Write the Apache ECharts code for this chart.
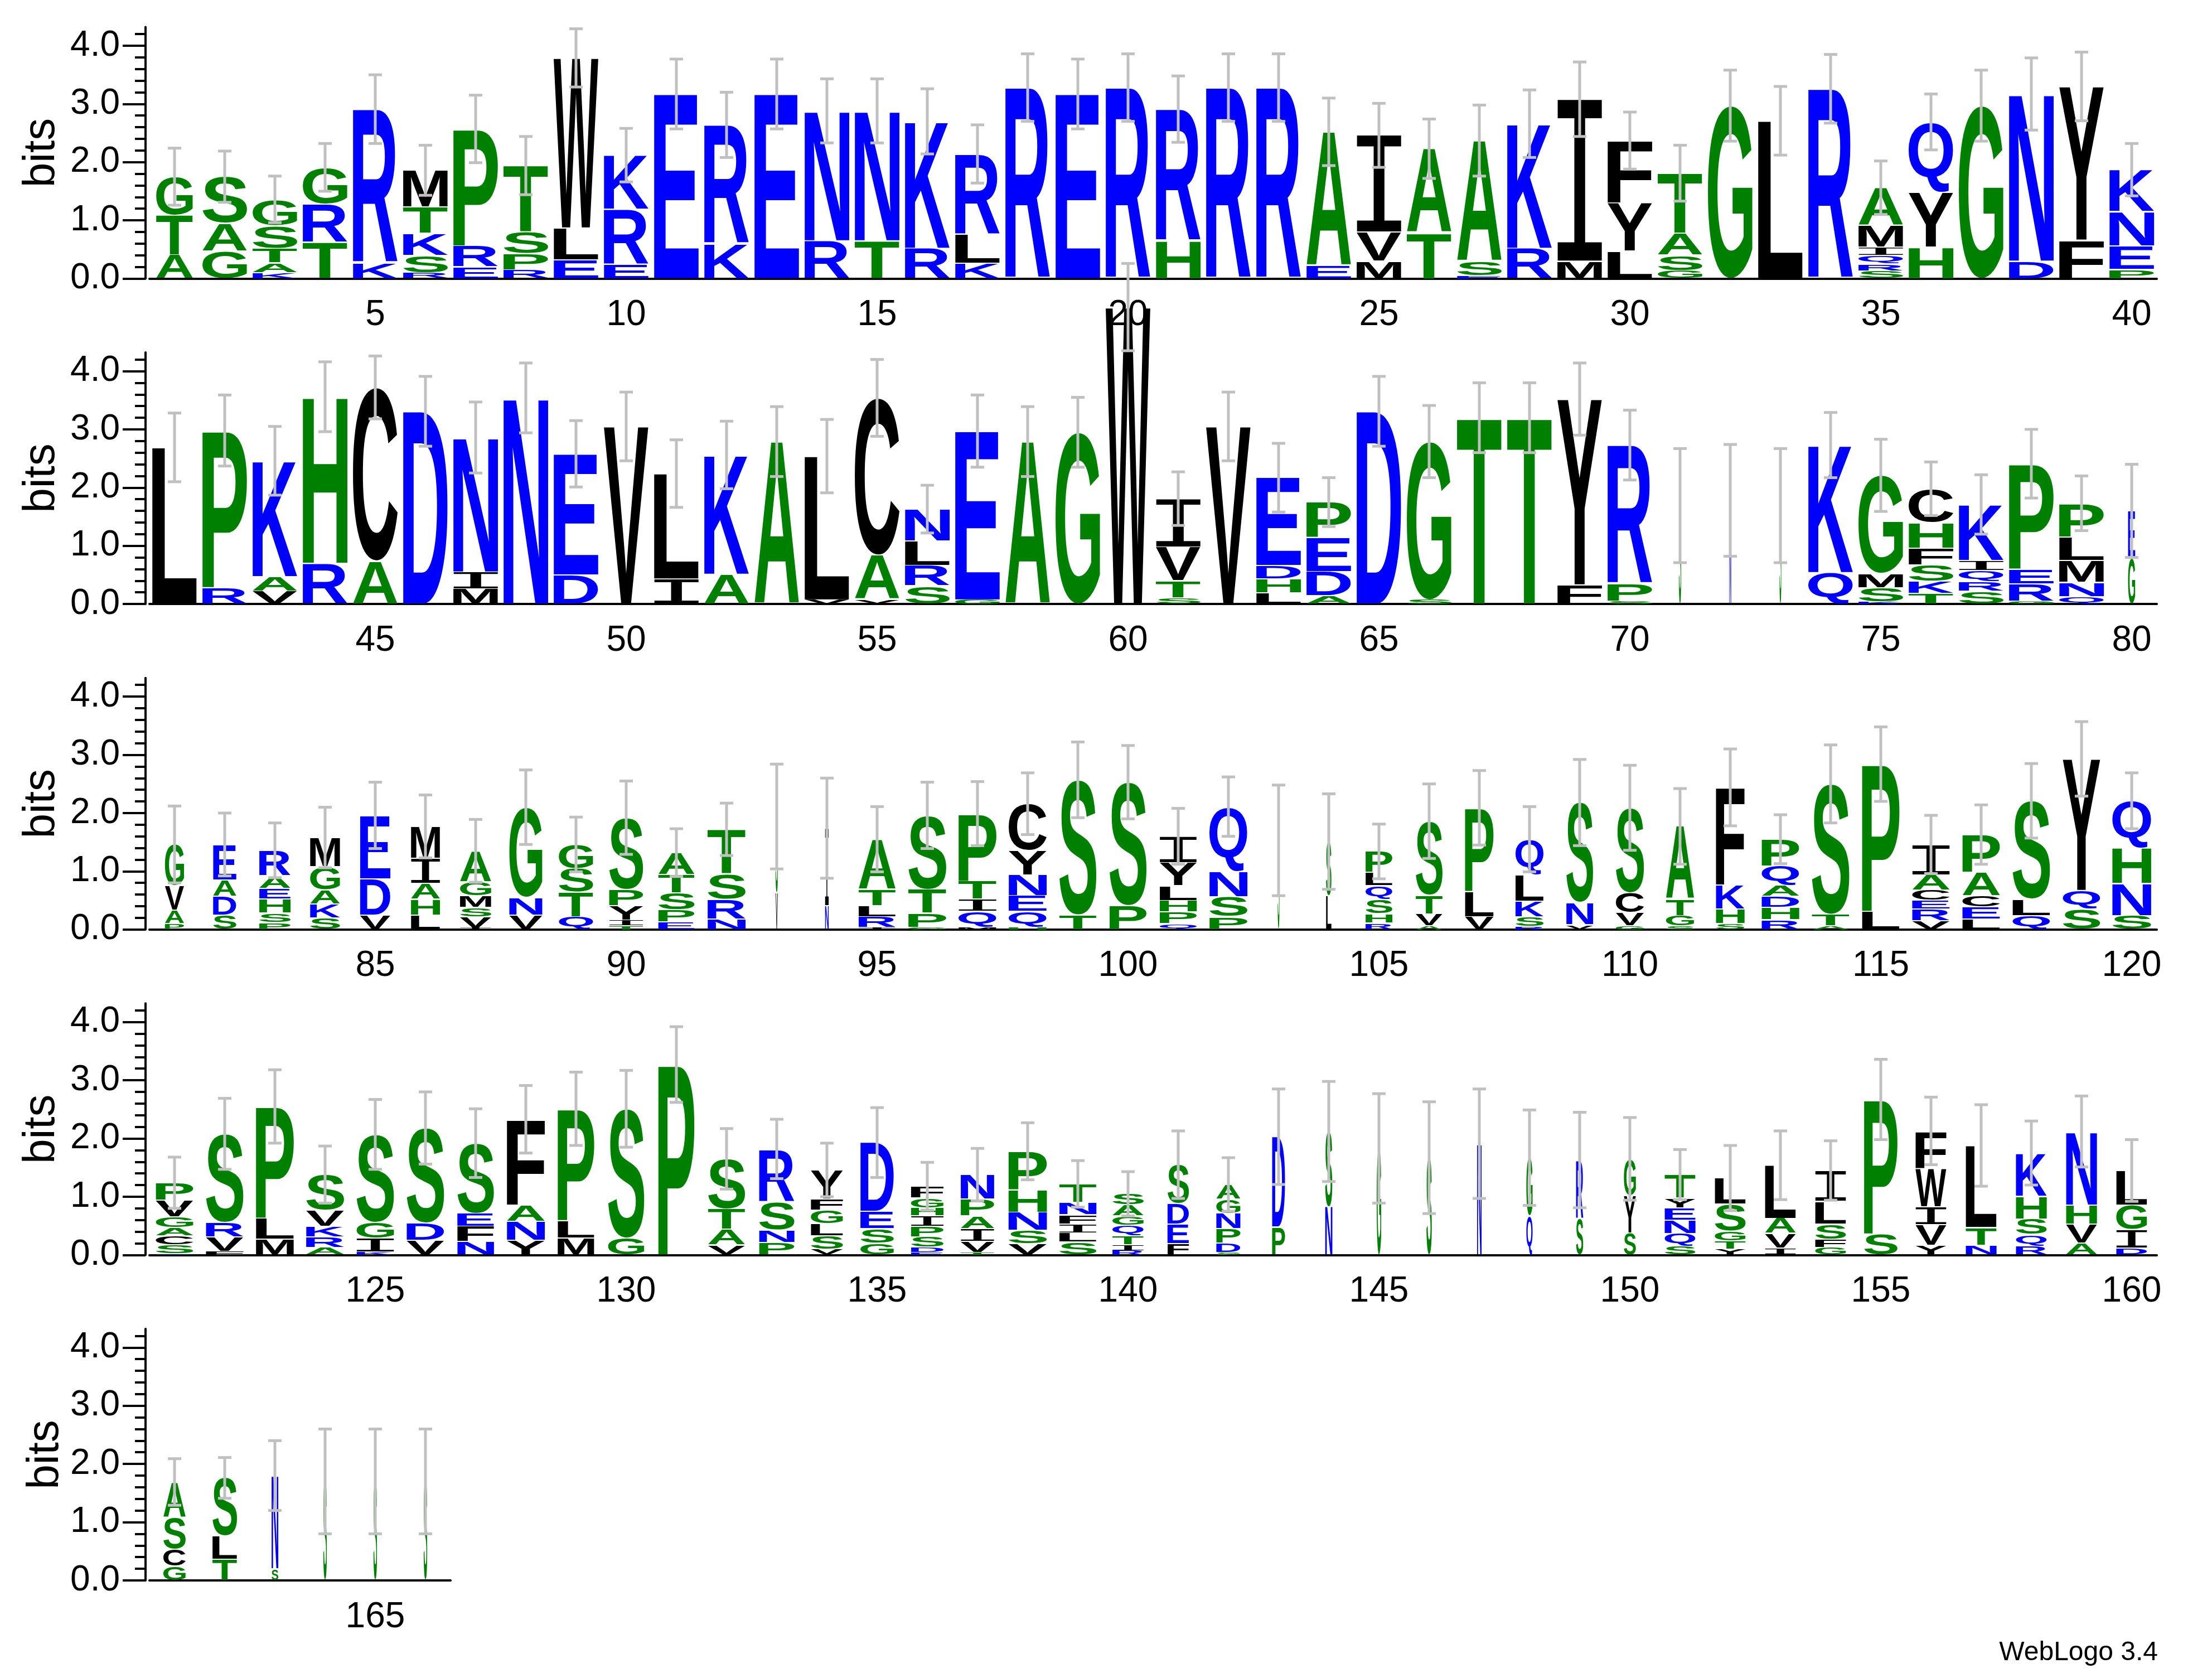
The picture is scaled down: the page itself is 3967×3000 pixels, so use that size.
<!DOCTYPE html>
<html>
<head>
<meta charset="utf-8">
<title>WebLogo</title>
<script src="https://cdn.jsdelivr.net/npm/echarts@6.0.0/dist/echarts.min.js"></script>
<style>
  html, body { margin: 0; padding: 0; background: #fff; }
  #chart { width: 3967px; height: 3000px; }
</style>
</head>
<body>
<div id="chart"></div>
<script>
// each stack is read bottom -> top, "letter + height in bits"
const rowStarts = [1, 41, 81, 121, 161];
const majorTicks = [0, 1, 2, 3, 4];

const stacks1 = [
  "A.41 T.68 G.66", "G.47 A.48 S.80", "K.1 A.17 T.25 S.39 G.45", "T.62 R.66 G.63", "K.27 R2.64",
  "R.1 S.3 K.38 T.45 M.63", "E.2 R.36 P2.01", "R.15 P.28 S.37 T1.14", "E.32 L.55 W2.92", "E.25 R.94 K.93",
  "E3.17", "K.6 R2.04", "E3.17", "R.65 N2.23", "T.65 N2.23",
  "R.52 K2.18", "K.26 L.5 R1.38", "R3.28", "E3.17", "R3.28",
  "H.65 R2.26", "R3.28", "R3.28", "E.22 A2.3", "M.3 V.5 I1.66",
  "T.79 A1.44", "E.05 S.25 A2.07", "R.52 K2.14", "M.3 I2.78", "L.47 Y.83 F1.07",
  "G.14 S.26 A.38 T1.03", "G2.97", "L2.71", "R3.26", "S.13 R.12 Q.15 I.14 M.37 A.65",
  "H.54 Y.94 Q1.21", "G2.97", "D.3 N2.87", "F.66 Y2.64", "P.16 E.4 N.59 K.72"
];
const errors1 = [.49, .44, .40, .41, .59, .43, .58, .5, .5, .46, .6, .56, .6, .55, .55, .56, .5, .58, .6, .58,
  .57, .58, .58, .58, .55, .51, .61, .58, .64, .49, .48, .61, .59, .59, .46, .48, .61, .62, .59, .45];
const widths1 = [.82, 1, 1, 1, 1, 1, 1, 1, 1, 1, 1, 1, 1, 1, 1, 1, 1, 1, 1, 1,
  1, 1, 1, 1, 1, 1, 1, 1, 1, 1, 1, 1, 1, 1, 1, 1, 1, 1, 1, 1];

const stacks2 = [
  "L2.69", "R.28 P2.7", "V.22 A.25 K1.99", "R.7 H2.86", "A.74 C2.98",
  "D3.31", "M.26 I.29 N2.31", "N3.54", "D.5 E2.08", "V3.05",
  "I.43 L1.81", "A.51 K2.05", "A2.79", "V.07 L2.47", "V.08 A.76 C2.7",
  "S.31 R.35 L.42 N.55", "G.07 E2.9", "A2.79", "G2.95", "W5.1",
  "S.11 T.29 V.58 I.83", "V3.05", "L.19 H.24 D.23 E1.51", "A.14 D.42 E.58 P.61", "D3.31",
  "S.07 G2.72", "T3.2", "T3.2", "F.33 Y3.19", "S.05 P.3 R2.38",
  "S1.69", "N1.78", "S1.69", "Q.54 K2.19", "K.04 S.24 M.24 G1.69",
  "T.18 K.21 S.28 F.29 H.44 C.58", "S.22 R.17 Q.19 I.17 K.96", "G.05 R.3 E.25 P1.81", "Q.13 N.24 M.38 L.4 P.58", "G.79 E.81"
];
const errors2 = [.59, .61, .59, .6, .54, .6, .61, .6, .57, .59, .58, .58, .6, .63, .66, .41, .62, .6, .6, .75,
  .46, .59, .59, .42, .6, .62, .6, .6, .62, .6, .98, .96, .98, .56, .62, .46, .51, .59, .47, .8];
const widths2 = [1, 1, 1, 1, 1, 1, 1, 1, 1, 1, 1, 1, 1, 1, 1, 1, 1, 1, 1, 1,
  1, 1, 1, 1, 1, 1, 1, 1, 1, 1, .05, .04, .04, 1, 1, 1, 1, 1, 1, .16];

const stacks3 = [
  "P.1 A.23 V.42 G.71", "S.25 D.32 A.28 E.61", "P.12 S.16 H.24 E.18 A.22 R.44", "S.2 K.24 A.24 G.4 M.5", "V.25 D.62 E1.09",
  "L.25 H.27 A.27 I.43 M.55", "I.03 V.19 S.16 M.2 G.24 A.53", "V.25 N.3 G1.55", "Q.22 T.42 S.41 G.41", "T.06 I.1 Y.25 P.28 S1.23",
  "E.13 P.21 S.29 T.31 A.38", "N.18 R.34 S.44 T.76", "V.63 S1.31", "N.41 I1.33", "I.03 R.19 L.19 T.28 A.86",
  "G.04 P.24 T.41 S1.27", "M.04 Q.27 I.21 T.31 P1.16", "H.04 Q.27 E.27 N.36 Y.42 C.8", "T.25 S2.32", "P.41 S2.12",
  "Q.1 P.2 H.2 L.25 Y.4 I.45", "P.22 S.34 N.44 Q1.11", "S1.53", "L.58 S.93", "R.11 H.16 S.25 Q.23 L.23 P.36",
  "A.06 V.21 T.32 S1.27", "V.22 L.44 P1.43", "R.05 S.17 K.27 L.45 Q.61", "V.08 N.38 S1.72", "G.06 V.23 C.34 S1.46",
  "S.06 G.18 T.28 A1.25", "S.1 H.25 K.41 F1.68", "R.17 H.21 D.19 A.19 Q.33 P.46", "A.06 T.2 S2.24", "L.31 P2.53",
  "V.15 R.2 E.15 C.18 A.26 I.52", "L.18 E.21 C.19 A.4 P.65", "Q.24 L.28 S1.69", "S.35 Q.32 Y2.26", "S.24 N.55 H.61 Q.81"
];
const errors3 = [.66, .54, .47, .52, .57, .54, .54, .64, .47, .63, .41, .45, .9, .86, .56, .57, .55, .53, .65, .63,
  .48, .51, .95, .82, .47, .64, .64, .56, .74, .73, .65, .66, .42, .67, .64, .5, .51, .64, .64, .48];
const widths3 = [.43, .52, .7, .67, .68, .65, .7, .74, .77, .76, .81, .85, .05, .08, .83, .85, .85, .85, .83, .83,
  .83, .85, .04, .12, .6, .6, .64, .63, .6, .63, .63, .64, .84, .84, .84, .84, .84, .84, .84, .87];

const stacks4 = [
  "Q.02 S.15 C.16 A.14 G.18 V.29 P.3", "F.06 V.25 R.25 S1.52", "M.27 L.36 P1.92", "A.13 R.18 K.18 V.28 S.61", "K.05 I.24 G.27 S1.51",
  "V.25 D.3 S1.63", "N.23 F.26 E.22 S1.21", "Y.25 N.33 A.28 F1.47", "M.29 L.3 P1.92", "G.29 S2.22",
  "P3.27", "V.17 A.27 T.35 S.86", "P.21 N.22 S.49 R.9", "V.1 S.23 L.21 G.23 F.19 Y.5", "G.2 S.25 E.3 D1.18",
  "E.04 D.09 S.18 P.18 I.18 H.14 G.17 F.2", "T.04 V.19 I.22 A.22 P.29 N.42", "V.19 S.23 N.31 H.39 P.66", "S.22 L.16 I.15 F.16 N.21 T.32", "R.07 I.11 T.15 Q.18 G.16 A.19 S.19",
  "F.19 E.34 D.35 S.67", "S.04 D.16 P.25 N.26 G.25 A.25", "P.48 D1.55", "N.83 S1.29", "G1.83",
  "S1.67", "N1.91", "Q.67 G1.0", "S.63 R1.0", "S.38 Y.64 G.63",
  "S.15 Q.22 N.23 E.21 Y.17 T.4", "Y.1 T.14 G.17 S.46 L.45", "I.12 V.25 A.26 L.91", "G.13 F.14 S.26 L.39 I.53", "S.36 P2.31",
  "Y.17 V.35 I.31 W.66 F.64", "N.17 T.3 L1.41", "R.15 Q.2 S.27 H.39 K.74", "A.2 V.33 H.33 N1.26", "D.12 I.32 G.42 L.59"
];
const errors4 = [.44, .61, .63, .49, .6, .62, .59, .58, .63, .66, .65, .52, .51, .46, .6, .41, .45, .49, .4, .38,
  .58, .46, .82, .86, .94, .96, .94, .82, .82, .71, .43, .56, .59, .51, .69, .58, .7, .55, .61, .53];
const widths4 = [.84, .84, .85, .85, .84, .84, .82, .85, .82, .81, .81, .83, .79, .72, .75, .73, .75, .86, .83, .7,
  .48, .54, .29, .16, .1, .12, .1, .14, .16, .27, .69, .69, .69, .69, .75, .69, .69, .69, .69, .69];

const stacks5 = ["G.24 C.3 S.55 A.6", "T.36 L.4 S1.0", "S.2 N1.6", "S1.7", "S1.7", "S1.7"];
const errors5 = [.4, .35, .6, .9, .9, .9];
const widths5 = [.5, .55, .15, .08, .08, .08];

const rowStacks = [stacks1, stacks2, stacks3, stacks4, stacks5];
const rowErrors = [errors1, errors2, errors3, errors4, errors5];
const rowWidths = [widths1, widths2, widths3, widths4, widths5];

// hydrophobicity colours
const colorOf = ch => "RKDENQ".includes(ch) ? "#0000ff" : ("SGHTAP".includes(ch) ? "#008000" : "#000000");

const FONT = 'bold 200px "Liberation Sans"';
const FONT_I = '200px "DejaVu Sans Mono"';   // serif I like the logo font
const fontFor = ch => ch === "I" ? FONT_I : FONT;
const FONT_AXIS = '"Liberation Sans", Arial, sans-serif';
const YMAX = 4.32;
const BIT = 104.4;       // px per bit
const BASE0 = 499.5;     // baseline of first row
const ROWSTEP = 583.6;
const COL = 90;          // px per position
const LETTER_FILL = 0.89;

// glyph bounding boxes, measured the same way zrender draws (middle baseline)
const mctx = document.createElement("canvas").getContext("2d");
mctx.textBaseline = "middle";
mctx.textAlign = "left";
const boxCache = {};
function glyphBox(ch) {
  if (!boxCache[ch]) {
    mctx.font = fontFor(ch);
    const m = mctx.measureText(ch);
    boxCache[ch] = { l: m.actualBoundingBoxLeft, r: m.actualBoundingBoxRight, a: m.actualBoundingBoxAscent, d: m.actualBoundingBoxDescent };
  }
  return boxCache[ch];
}

function letterRender(glyphs) {
  return function (params, api) {
    const g = glyphs[params.dataIndex];
    const ci = api.value(0);
    const pb = api.coord([ci, api.value(1)]);
    const pt = api.coord([ci, api.value(2)]);
    const band = api.size([1, 0])[0];
    const w = band * LETTER_FILL * api.value(3);
    let top = pt[1], h = pb[1] - pt[1];
    if (h > 8) { top += 1; h -= 2; }
    if (h <= 0.3) return { type: "group", children: [] };
    const m = glyphBox(g.ch);
    const sx = w / (m.l + m.r);
    const sy = h / (m.a + m.d);
    return {
      type: "text",
      x: pb[0] - w / 2 + m.l * sx,
      y: top + m.a * sy,
      scaleX: sx,
      scaleY: sy,
      silent: true,
      style: { text: g.ch, x: 0, y: 0, font: fontFor(g.ch), fill: g.color, align: "left", verticalAlign: "middle" }
    };
  };
}

function errorRender(params, api) {
  const ci = api.value(0), t = api.value(1), e = api.value(2);
  const hi = api.coord([ci, t + e]);
  const lo = api.coord([ci, t - e]);
  const cap = 12;
  const st = { stroke: "#c0c0c0", lineWidth: 5 };
  return {
    type: "group", silent: true,
    children: [
      { type: "line", shape: { x1: hi[0], y1: hi[1], x2: lo[0], y2: lo[1] }, style: st },
      { type: "line", shape: { x1: hi[0] - cap, y1: hi[1], x2: hi[0] + cap, y2: hi[1] }, style: st },
      { type: "line", shape: { x1: lo[0] - cap, y1: lo[1], x2: lo[0] + cap, y2: lo[1] }, style: st }
    ]
  };
}

const minorTicks = [];
for (let i = 0; i <= 21; i++) minorTicks.push(+(i * 0.2).toFixed(1));

const grids = [], xAxes = [], yAxes = [], series = [];
const blackLine = { color: "#000", width: 4 };

rowStacks.forEach((stacks, r) => {
  const n = stacks.length;
  const cats = stacks.map((_, i) => String(rowStarts[r] + i));
  grids.push({ left: 268, top: BASE0 + r * ROWSTEP - YMAX * BIT, width: n * COL, height: YMAX * BIT });

  xAxes.push({
    type: "category", gridIndex: r, data: cats, position: "bottom", offset: 2,
    axisLine: { lineStyle: blackLine },
    axisTick: { alignWithLabel: true, interval: 0, length: 11, lineStyle: blackLine },
    axisLabel: { interval: (i, v) => +v % 5 === 0, color: "#000", fontSize: 64, fontFamily: FONT_AXIS, margin: 32 },
    splitLine: { show: false }
  });
  xAxes.push({
    type: "category", gridIndex: r, data: cats, position: "bottom", offset: 2,
    axisLine: { show: false },
    axisTick: { alignWithLabel: true, interval: (i, v) => +v % 5 === 0, length: 22, lineStyle: blackLine },
    axisLabel: { show: false },
    splitLine: { show: false }
  });

  yAxes.push({
    type: "value", gridIndex: r, min: 0, max: YMAX, position: "left", offset: 7,
    axisLine: { show: true, lineStyle: blackLine },
    axisTick: { show: true, customValues: minorTicks, length: 19, lineStyle: blackLine },
    axisLabel: { show: false },
    splitLine: { show: false }
  });
  yAxes.push({
    type: "value", gridIndex: r, min: 0, max: YMAX, position: "left", offset: 7,
    axisLine: { show: false },
    axisTick: { show: true, customValues: majorTicks, length: 41, lineStyle: blackLine },
    axisLabel: { customValues: majorTicks, formatter: v => v.toFixed(1), color: "#000", fontSize: 64, fontFamily: FONT_AXIS, margin: 46 },
    name: "bits", nameLocation: "middle", nameGap: 138,
    nameTextStyle: { color: "#000", fontSize: 80, fontFamily: FONT_AXIS },
    splitLine: { show: false }
  });

  const glyphs = [], letterData = [], errData = [];
  stacks.forEach((s, i) => {
    let y = 0;
    s.split(" ").forEach(tok => {
      const ch = tok[0], h = parseFloat(tok.slice(1));
      glyphs.push({ ch, color: colorOf(ch) });
      letterData.push([i, y, y + h, rowWidths[r][i]]);
      y += h;
    });
    errData.push([i, y, rowErrors[r][i]]);
  });

  series.push({
    type: "custom", xAxisIndex: 2 * r, yAxisIndex: 2 * r, clip: false,
    renderItem: letterRender(glyphs), data: letterData, encode: { x: 0, y: [1, 2] }, z: 2
  });
  series.push({
    type: "custom", xAxisIndex: 2 * r, yAxisIndex: 2 * r, clip: false,
    renderItem: errorRender, data: errData, encode: { x: 0, y: 1 }, z: 3
  });
});

const chart = echarts.init(document.getElementById("chart"));
chart.setOption({
  animation: false,
  backgroundColor: "#fff",
  grid: grids,
  xAxis: xAxes,
  yAxis: yAxes,
  series: series,
  graphic: [{
    type: "text", right: 97, top: 2940,
    style: { text: "WebLogo 3.4", fill: "#000", fontSize: 48, fontFamily: FONT_AXIS }
  }]
});
window.addEventListener("resize", () => chart.resize());
</script>
</body>
</html>
